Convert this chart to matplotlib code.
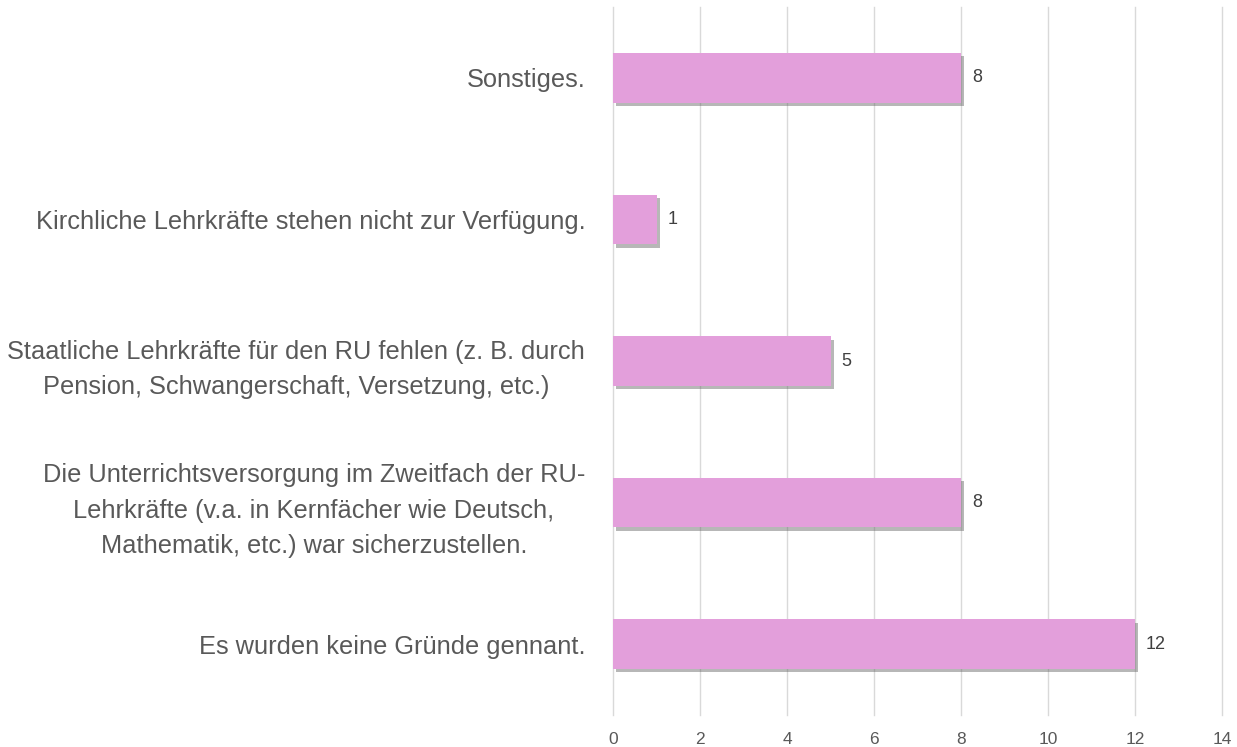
import matplotlib
matplotlib.use("Agg")
import matplotlib.pyplot as plt
import matplotlib.patheffects as pe

categories = [
    "Es wurden keine Gründe gennant.",
    "Die Unterrichtsversorgung im Zweitfach der RU-\nLehrkräfte (v.a. in Kernfächer wie Deutsch,\nMathematik, etc.) war sicherzustellen.",
    "Staatliche Lehrkräfte für den RU fehlen (z. B. durch\nPension, Schwangerschaft, Versetzung, etc.)",
    "Kirchliche Lehrkräfte stehen nicht zur Verfügung.",
    "Sonstiges.",
]
values = [12, 8, 5, 1, 8]
xticks = [0, 2, 4, 6, 8, 10, 12, 14]

plt.rcParams['font.family'] = ['Liberation Sans', 'DejaVu Sans']
fig = plt.figure(figsize=(12.37, 7.47), dpi=100)
ax = fig.add_axes([613/1237, 1-715/747, 609/1237, 708/747])

bars = ax.barh(range(len(categories)), values, height=0.35, color='#E39FDB', zorder=3,
               path_effects=[pe.SimplePatchShadow(offset=(2.5, -2.5), shadow_rgbFace='#606060', alpha=0.45), pe.Normal()])
for i, v in enumerate(values):
    ax.text(v + 0.25, i, str(v), va='center', ha='left', fontsize=13, color='#404040')

ax.set_xlim(0, 14)
ax.set_ylim(-0.5, len(categories) - 0.5)
ax.set_xticks(xticks)
ax.set_yticks(range(len(categories)))
ax.set_yticklabels(categories, fontsize=18.3, color='#595959', multialignment='center', linespacing=1.6)
ax.tick_params(axis='y', length=0, pad=20)
ax.tick_params(axis='x', length=0, pad=12, labelsize=12.5, labelcolor='#595959')
ax.grid(axis='x', color='#D9D9D9', linewidth=1, zorder=0)
for line in ax.get_xgridlines():
    line.set_clip_on(False)
for s in ax.spines.values():
    s.set_visible(False)

fig.savefig("out.png", dpi=100)
